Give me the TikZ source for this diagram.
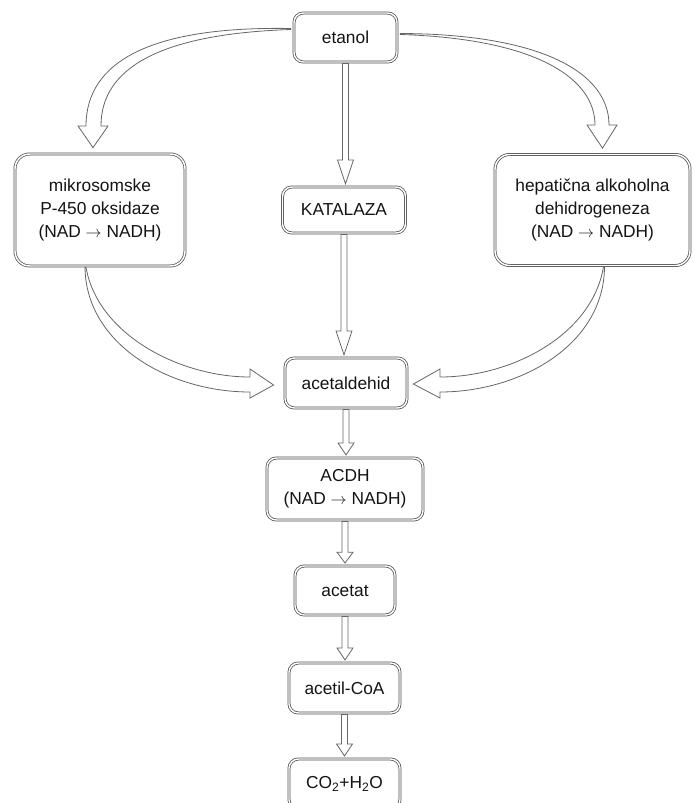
\documentclass[tikz,border=0pt]{standalone}
\usepackage{fontspec}
\setmainfont{Liberation Sans}
\usetikzlibrary{calc}
\newcommand{\rarr}{$\rightarrow$}
\tikzset{
  box/.style={draw=black!70, line width=0.55pt, double=white, double distance=1.1pt,
    rounded corners=7pt, fill=white, align=center, text=black!92,
    font=\fontsize{13}{17}\selectfont, inner sep=0pt},
  barrow/.style={draw=black!60, line width=0.6pt, fill=white, line join=miter},
}
% straight block arrow: #1 source, #2 target, #3 head length (pt)
\newcommand{\blockarr}[3]{%
  \draw[barrow] let \p1=(#1.south), \p2=(#2.north) in
    (\x1-2.25pt,\y1-0.8pt) -- (\x1-2.25pt,\y2+#3+2pt) -- (\x1-6pt,\y2+#3+2pt) -- (\x1,\y2+2pt)
    -- (\x1+6pt,\y2+#3+2pt) -- (\x1+2.25pt,\y2+#3+2pt) -- (\x1+2.25pt,\y1-0.8pt) -- cycle;}
\begin{document}
\begin{tikzpicture}[x=0.75pt,y=-0.75pt]
\useasboundingbox (0,0) rectangle (695,803);
\clip (0,0) rectangle (695,803);

\node[box, minimum width=103*0.75pt, minimum height=49*0.75pt] (etanol) at (345.5,37.5) {etanol};
\node[box, rounded corners=11pt, minimum width=170*0.75pt, minimum height=112*0.75pt] (left) at (100,210) {mikrosomske\\ P-450 oksidaze\\(NAD \rarr{} NADH)};
\node[box, minimum width=123*0.75pt, minimum height=46*0.75pt] (katalaza) at (344,210) {KATALAZA};
\node[box, rounded corners=11pt, minimum width=195*0.75pt, minimum height=111*0.75pt] (right) at (592.5,210) {hepatična alkoholna\\dehidrogeneza\\(NAD \rarr{} NADH)};
\node[box, minimum width=122*0.75pt, minimum height=50*0.75pt] (acet) at (346,383) {acetaldehid};
\node[box, minimum width=156*0.75pt, minimum height=62*0.75pt] (acdh) at (345,489) {ACDH\\(NAD \rarr{} NADH)};
\node[box, minimum width=100*0.75pt, minimum height=49*0.75pt] (acetat) at (345,590.5) {acetat};
\node[box, minimum width=111*0.75pt, minimum height=50*0.75pt] (acoa) at (344.5,688) {acetil-CoA};
\node[box, minimum width=111*0.75pt, minimum height=50*0.75pt] (co2) at (344.5,784) {CO\textsubscript{2}+H\textsubscript{2}O};

% straight block arrows
\blockarr{etanol}{katalaza}{18pt}
\blockarr{katalaza}{acet}{18pt}
\blockarr{acet}{acdh}{9pt}
\blockarr{acdh}{acetat}{8pt}
\blockarr{acetat}{acoa}{9pt}
\blockarr{acoa}{co2}{9pt}

% curved tapering block arrows
\draw[barrow] ($(etanol.west)+(-3,-9)$) .. controls (150,26) and (86,62) .. (86,126)
  -- (78,126) -- ($(left.north)+(-7,-6)$) -- (108,126) -- (101,126)
  .. controls (101,68) and (160,34) .. ($(etanol.west)+(-3,-8)$) -- cycle;

\draw[barrow] ($(etanol.east)+(3,-4)$) .. controls (540,34) and (609,72) .. (609,125)
  -- (617,125) -- ($(right.north)+(10,-6)$) -- (587,125) -- (595,125)
  .. controls (595,80) and (540,39) .. ($(etanol.east)+(3,-3)$) -- cycle;

\draw[barrow] ($(left.south)+(-15,1)$) .. controls (86,345) and (170,392) .. (250,392)
  -- (250,398) -- ($(acet.west)+(-11,2)$) -- (250,369) -- (250,377)
  .. controls (180,377) and (98,335) .. ($(left.south)+(-14,1)$) -- cycle;

\draw[barrow] ($(right.south)+(12,1)$) .. controls (604,345) and (520,392) .. (440,392)
  -- (440,398) -- ($(acet.east)+(6,1)$) -- (440,369) -- (440,377)
  .. controls (512,377) and (592,335) .. ($(right.south)+(11,1)$) -- cycle;
\end{tikzpicture}
\end{document}
